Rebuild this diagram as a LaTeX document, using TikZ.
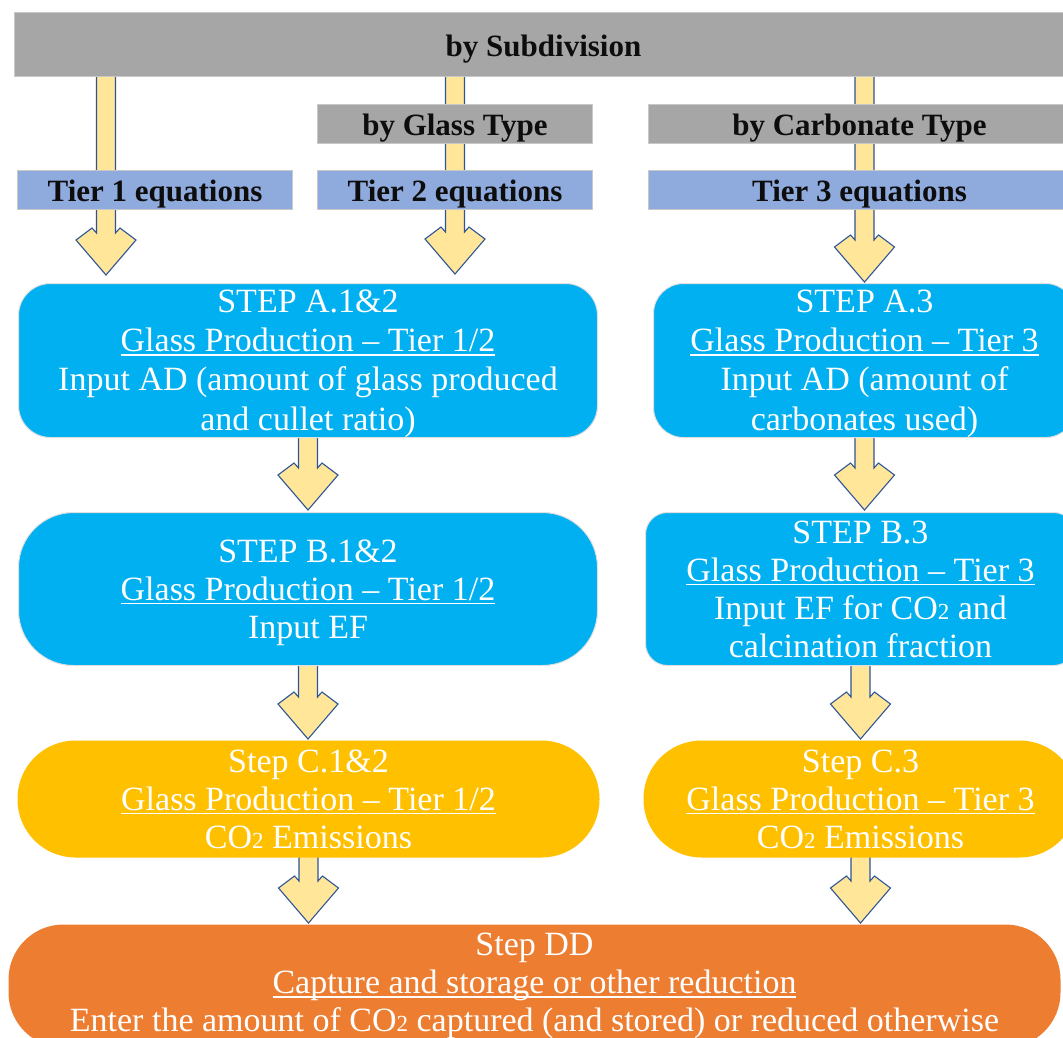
\documentclass[tikz,border=0pt]{standalone}
\usepackage{fontspec}
\setmainfont{Liberation Serif}[BoldFont={Liberation Serif Bold}]
\usetikzlibrary{calc}

\definecolor{greyfill}{HTML}{A6A6A6}
\definecolor{greyline}{HTML}{C8C8C8}
\definecolor{tierblue}{HTML}{8FAADC}
\definecolor{stepblue}{HTML}{00B0F0}
\definecolor{stepgold}{HTML}{FFC000}
\definecolor{steporange}{HTML}{ED7D31}
\definecolor{arrowfill}{HTML}{FFE699}
\definecolor{arrowline}{HTML}{2F5597}

\pgfdeclarelayer{back}
\pgfsetlayers{back,main}

% underlined title line: rule below the baseline
\newsavebox\ulinebox
\newcommand\ulabel[1]{\sbox\ulinebox{#1}\leavevmode
  \rlap{\rule[-4pt]{\wd\ulinebox}{1.5pt}}\usebox\ulinebox}

% taller first line, to push a text block down a little
\newcommand\lift[1]{\rule{0pt}{#1}}

% CO2 with a small, non-lowered 2
\newcommand\cotwo{CO{\fontsize{23}{23}\selectfont 2}}

% block arrow: x and top from #2, tip above #3 by the optional gap #1
\newcommand\blockarrow[3][0]{%
  \draw[blockarrow] let \p1=(#2), \p2=(#3) in
    (\x1-9.5pt,\y1+2pt) -- (\x1-9.5pt,\y2+#1pt+42pt) -- (\x1-14pt,\y2+#1pt+47pt)
    -- (\x1-30pt,\y2+#1pt+35pt) -- (\x1,\y2+#1pt) -- (\x1+30pt,\y2+#1pt+35pt)
    -- (\x1+14pt,\y2+#1pt+47pt) -- (\x1+9.5pt,\y2+#1pt+42pt) -- (\x1+9.5pt,\y1+2pt) -- cycle;}

\begin{document}
\begin{tikzpicture}[x=1pt,y=-1pt,
  labelbox/.style={draw=greyline, line width=1pt, inner sep=0pt, anchor=north west,
    text height=25pt, text depth=2pt,
    font=\fontsize{31}{36}\selectfont\bfseries, text=black!95},
  greybox/.style={labelbox, fill=greyfill},
  tierbox/.style={labelbox, fill=tierblue},
  stepbox/.style={draw=black!12, line width=1pt, inner sep=0pt, anchor=north west,
    align=center, text=white, font=\fontsize{34}{38}\selectfont},
  widestep/.style={font=\fontsize{34}{39.2}\selectfont},
  bluestep/.style={stepbox, fill=stepblue},
  goldstep/.style={stepbox, fill=stepgold, draw=none},
  orangestep/.style={stepbox, fill=steporange, draw=none},
  blockarrow/.style={fill=arrowfill, draw=arrowline, line width=1.1pt, line join=miter}]

\useasboundingbox (0,0) rectangle (1063,1037);

% header and grouping labels
\node[greybox, minimum width=1058, minimum height=64] (sub) at (14,12) {by Subdivision};
\node[greybox, minimum width=275, minimum height=39] (glass) at (317,104) {by Glass Type};
\node[greybox, minimum width=422, minimum height=39] (carb) at (648,104) {by Carbonate Type};
\node[tierbox, minimum width=275, minimum height=39] (tier1) at (17,170) {Tier 1 equations};
\node[tierbox, minimum width=275, minimum height=39] (tier2) at (317,170) {Tier 2 equations};
\node[tierbox, minimum width=422, minimum height=39] (tier3) at (648,170) {Tier 3 equations};

% tier 1/2 column
\node[bluestep, widestep, minimum width=579, minimum height=154, rounded corners=32] (stepA12) at (18,283)
  {\lift{29pt}STEP A.1\&2\\ \ulabel{Glass Production – Tier 1/2}\\ Input AD (amount of glass produced\\ and cullet ratio)};
\node[bluestep, minimum width=579, minimum height=153, rounded corners=55] (stepB12) at (18,512)
  {\lift{30pt}STEP B.1\&2\\ \ulabel{Glass Production – Tier 1/2}\\ Input EF};
\node[goldstep, minimum width=582, minimum height=117, rounded corners=58] (stepC12) at (17,740)
  {Step C.1\&2\\ \ulabel{Glass Production – Tier 1/2}\\ \cotwo{} Emissions};

% tier 3 column
\node[bluestep, widestep, minimum width=422, minimum height=154, rounded corners=30] (stepA3) at (653,283)
  {\lift{29pt}STEP A.3\\ \ulabel{Glass Production – Tier 3}\\ Input AD (amount of\\ carbonates used)};
\node[bluestep, minimum width=430, minimum height=153, rounded corners=22] (stepB3) at (645,512)
  {STEP B.3\\ \ulabel{Glass Production – Tier 3}\\ Input EF for \cotwo{} and\\ calcination fraction};
\node[goldstep, minimum width=434, minimum height=117, rounded corners=58] (stepC3) at (643,740)
  {Step C.3\\ \ulabel{Glass Production – Tier 3}\\ \cotwo{} Emissions};

% common final step
\node[orangestep, minimum width=1052, minimum height=123, rounded corners=55] (stepDD) at (8,924)
  {Step DD\\ \ulabel{Capture and storage or other reduction}\\ Enter the amount of \cotwo{} captured (and stored) or reduced otherwise};

\coordinate (lane1) at (106,0);

\begin{pgfonlayer}{back}
  \fill[white] (0,0) rectangle (1063,1037);
  \blockarrow[8]{sub.south -| lane1}{stepA12.north}
  \blockarrow[9]{sub.south -| glass.center}{stepA12.north}
  \blockarrow[1]{sub.south -| stepA3.north}{stepA3.north}
  \blockarrow[2]{stepA12.south}{stepB12.north}
  \blockarrow[1]{stepB12.south}{stepC12.north}
  \blockarrow[1]{stepC12.south}{stepDD.north}
  \blockarrow[2]{stepA3.south}{stepB3.north}
  \blockarrow[1]{stepB3.south}{stepC3.north}
  \blockarrow[1]{stepC3.south}{stepDD.north}
\end{pgfonlayer}
\end{tikzpicture}
\end{document}
